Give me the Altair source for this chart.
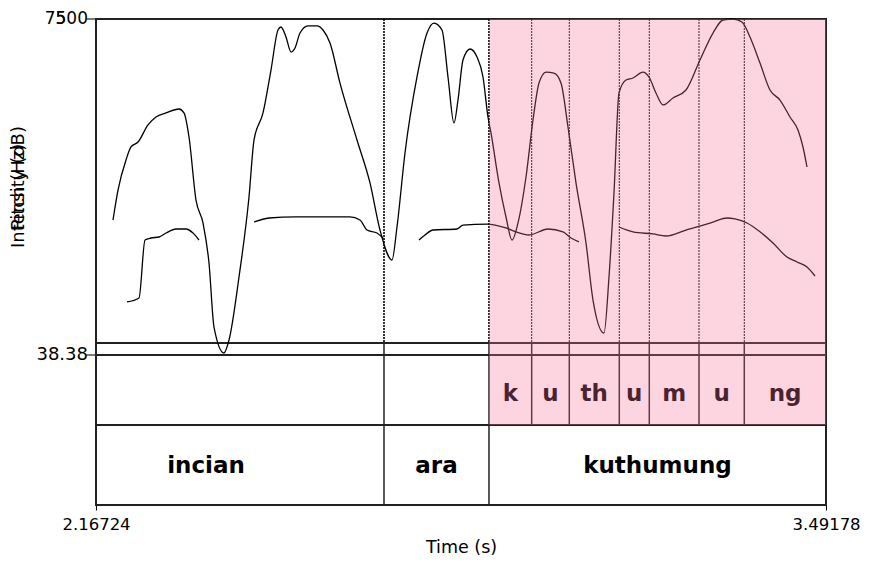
import altair as alt
import pandas as pd

T0, T1 = 2.16724, 3.49178

# Intensity contour (dB)
int_t = [2.19808, 2.20716, 2.22167, 2.23074, 2.24344, 2.26159, 2.27610, 2.29425, 2.31784, 2.32691,
         2.33598, 2.34868, 2.36138, 2.37227, 2.38134, 2.39948, 2.40856, 2.42670, 2.44484, 2.45392,
         2.47025, 2.48476, 2.49746, 2.50290, 2.51198, 2.52105, 2.52830, 2.53738, 2.55189, 2.56822,
         2.57911, 2.59181, 2.60995, 2.64080, 2.66439, 2.68253, 2.70430, 2.71337, 2.72789, 2.74966,
         2.76781, 2.78051, 2.79502, 2.80591, 2.81680, 2.82406, 2.83313, 2.84583, 2.85853, 2.86942,
         2.87849, 2.88393, 2.89845, 2.91115, 2.92204, 2.93292, 2.94744, 2.96014, 2.97103, 2.98373,
         2.99824, 3.01094, 3.02364, 3.03815, 3.05630, 3.06900, 3.08896, 3.09803, 3.10710, 3.11617,
         3.12887, 3.14157, 3.15972, 3.17060, 3.18330, 3.19600, 3.21415, 3.23774, 3.26314, 3.28673,
         3.30487, 3.32302, 3.33935, 3.35386, 3.37201, 3.39015, 3.40830, 3.42644, 3.44096, 3.45003,
         3.45729]
int_db = [53.09, 56.36, 59.63, 61.05, 61.59, 63.45, 64.32, 64.76, 65.19, 64.76,
          62.14, 55.27, 52.77, 48.41, 41.43, 38.60, 40.01, 46.88, 55.60, 61.81,
          64.76, 69.44, 73.80, 74.13, 73.04, 71.40, 71.84, 73.47, 74.24, 74.24,
          73.80, 72.38, 68.02, 61.81, 57.13, 52.00, 48.73, 52.33, 60.40, 68.68,
          73.47, 74.56, 73.80, 68.68, 63.67, 66.17, 70.53, 71.73, 70.86, 68.68,
          64.32, 62.58, 57.13, 53.42, 50.91, 52.77, 57.78, 63.99, 68.02, 69.22,
          69.11, 68.02, 63.23, 57.13, 50.59, 44.37, 40.78, 46.88, 56.04, 66.93,
          68.35, 68.57, 69.22, 68.68, 66.93, 65.63, 66.39, 67.26, 70.53, 73.47,
          74.89, 75.00, 74.67, 73.04, 70.20, 67.26, 66.17, 64.32, 62.90, 61.05,
          58.87]

# Pitch contour (Hz), voiced stretches
pitch_t = [2.22349, 2.24526, 2.25615, 2.26703, 2.28155, 2.29425, 2.31239, 2.33054, 2.34324, 2.35413,
           2.45392, 2.48114, 2.53013, 2.62811, 2.64625, 2.65895, 2.67710, 2.68799,
           2.75330, 2.76418, 2.77870, 2.82225, 2.83313, 2.87668, 2.91115, 2.92929, 2.95288, 2.98735,
           3.01457, 3.02908, 3.04360,
           3.11617, 3.14157, 3.17786, 3.20145, 3.23774, 3.25770, 3.28673, 3.31213, 3.32665, 3.34842,
           3.37201, 3.39560, 3.42100, 3.43914, 3.45729, 3.47181]
pitch_hz = [78.9, 84.8, 171.1, 174.1, 175.6, 181.5, 187.5, 187.5, 181.5, 171.1,
            197.9, 203.9, 205.4, 205.4, 200.9, 186.0, 181.5, 174.1,
            171.1, 178.6, 186.0, 187.5, 193.4, 194.9, 189.0, 183.3, 178.6, 187.5,
            183.3, 174.1, 168.2,
            190.5, 183.3, 180.1, 177.1, 186.0, 190.5, 197.9, 203.9, 202.4, 196.4,
            183.3, 166.7, 145.8, 138.4, 130.9, 117.6]
pitch_seg = [1] * 10 + [2] * 8 + [3] * 13 + [4] * 16

word_labels = ["incian", "ara", "kuthumung"]
word_start = [2.04390, 2.68979, 2.88030]
word_end = [2.68979, 2.88030, 3.49178]

phone_labels = ["k", "u", "th", "u", "m", "u", "ng"]
phone_start = [2.88030, 2.95777, 3.02600, 3.11672, 3.17115, 3.26132, 3.34352]
phone_end = [2.95777, 3.02600, 3.11672, 3.17115, 3.26132, 3.34352, 3.49178]

highlight_word = "kuthumung"

int_df = pd.DataFrame({"t": int_t, "db": int_db})
pitch_df = pd.DataFrame({"t": pitch_t, "hz": pitch_hz, "seg": pitch_seg})
words_df = pd.DataFrame({"label": word_labels, "start": word_start, "end": word_end})
phones_df = pd.DataFrame({"label": phone_labels, "start": phone_start, "end": phone_end})
word_b = pd.DataFrame({"t": word_start[1:]})
phone_b = pd.DataFrame({"t": phone_start[1:]})

W, H = 730, 486
Y_STRIP, Y_PH, Y_WD = 324, 336, 406
FONT = "DejaVu Sans"
LINE = "#222222"

xscale = alt.Scale(domain=[T0, T1], nice=False, zero=False)
xaxis = alt.Axis(values=[T0, T1], format=".5f", title="Time (s)", grid=False, domain=False,
                 tickSize=5, tickColor="black", labelFont=FONT, labelFontSize=16.5,
                 labelColor="black", labelPadding=6, labelFlush=False,
                 titleFont=FONT, titleFontSize=17.5, titleFontWeight="normal",
                 titleColor="black", titlePadding=6)
X = lambda f="t": alt.X(f"{f}:Q", scale=xscale, axis=xaxis)

layers = []

# outer frame
layers.append(alt.Chart(int_df).mark_rect(fill=None, stroke=LINE, strokeWidth=1.5).encode(
    x=alt.value(0), x2=alt.value(W), y=alt.value(0), y2=alt.value(H)))
for yy in (Y_STRIP, Y_PH, Y_WD):
    layers.append(alt.Chart(int_df).mark_rule(color=LINE, strokeWidth=1.5).encode(
        x=alt.value(0), x2=alt.value(W), y=alt.value(yy)))

# dotted boundaries through the analysis area
layers.append(alt.Chart(phone_b).mark_rule(color="black", strokeWidth=1, strokeDash=[2, 1]).encode(
    x=X(), y=alt.value(0), y2=alt.value(Y_STRIP)))
layers.append(alt.Chart(word_b).mark_rule(color="black", strokeWidth=1.6, strokeDash=[2, 1]).encode(
    x=X(), y=alt.value(0), y2=alt.value(Y_STRIP)))
# solid tier boundaries
layers.append(alt.Chart(phone_b).mark_rule(color=LINE, strokeWidth=1.5).encode(
    x=X(), y=alt.value(Y_STRIP), y2=alt.value(Y_WD)))
layers.append(alt.Chart(word_b).mark_rule(color=LINE, strokeWidth=1.5).encode(
    x=X(), y=alt.value(Y_STRIP), y2=alt.value(H)))

# intensity
layers.append(alt.Chart(int_df).mark_line(color="black", strokeWidth=1.3, interpolate="monotone").encode(
    x=X(), y=alt.Y("db:Q", scale=alt.Scale(domain=[38.38, 75], range=[Y_PH, 0], zero=False, nice=False),
                   axis=None)))
# pitch
layers.append(alt.Chart(pitch_df).mark_line(color="black", strokeWidth=1.3, interpolate="monotone").encode(
    x=X(), y=alt.Y("hz:Q", scale=alt.Scale(domain=[0, 500], range=[Y_PH, 0], zero=False, nice=False),
                   axis=None),
    detail="seg:N"))

# tier labels
layers.append(alt.Chart(phones_df).transform_calculate(mid="(datum.start + datum.end) / 2")
              .mark_text(font=FONT, fontSize=23, fontWeight="bold", color="black", baseline="middle")
              .encode(x=X("mid"), y=alt.value((Y_PH + Y_WD) / 2 + 4), text="label:N"))
layers.append(alt.Chart(words_df).transform_calculate(mid="(datum.start + datum.end) / 2")
              .mark_text(font=FONT, fontSize=23, fontWeight="bold", color="black", baseline="middle")
              .encode(x=X("mid"), y=alt.value((Y_WD + H) / 2 + 1), text="label:N"))

# y-axis labels and titles (pitch and intensity share the left side)
def txt(s, x, y, size=18, **kw):
    return alt.Chart(int_df.head(1)).mark_text(font=FONT, fontSize=size, color="black", **kw).encode(
        x=alt.value(x), y=alt.value(y), text=alt.value(s))

layers.append(txt("500", -8, 0, size=17, align="right", baseline="middle"))
layers.append(txt("75", -29.6, 0, size=17, align="right", baseline="middle"))
layers.append(txt("38.38", -8, Y_PH, align="right", baseline="middle"))
layers.append(txt("Intensity (dB)", -77, Y_PH / 2, align="center", baseline="middle", angle=270))
layers.append(txt("Pitch (Hz)", -77, Y_PH / 2, align="center", baseline="middle", angle=270))
# y ticks
for yy in (0, Y_PH):
    layers.append(alt.Chart(int_df.head(1)).mark_rule(color=LINE, strokeWidth=1.2).encode(
        x=alt.value(-10), x2=alt.value(0), y=alt.value(yy)))

# highlighted interval overlay
layers.append(alt.Chart(words_df).transform_filter(alt.datum.label == highlight_word)
              .mark_rect(color="#f8739b", opacity=0.3)
              .encode(x=X("start"), x2="end", y=alt.value(0), y2=alt.value(Y_WD)))

chart = alt.layer(*layers).resolve_scale(y="independent").properties(
    width=W, height=H,
    autosize=alt.AutoSizeParams(type="none"),
    padding={"left": 88, "top": 11, "right": 35, "bottom": 52},
).configure_view(stroke=None).configure(background="white")

chart.save("out.html", embed_options={"renderer": "svg", "actions": False})
